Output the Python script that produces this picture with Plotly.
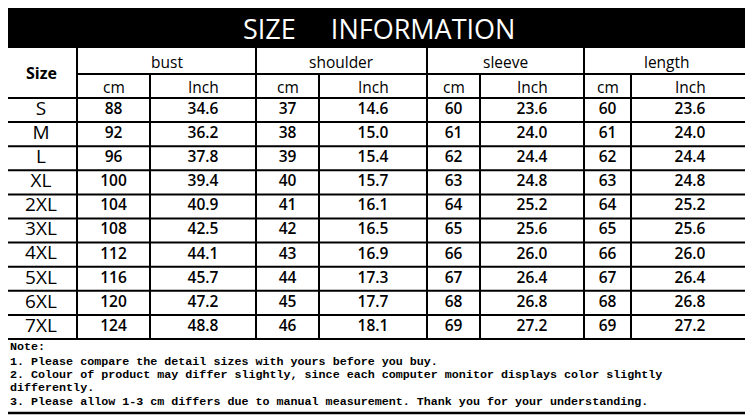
import plotly.graph_objects as go

# ---- data ----
sizes = ["S", "M", "L", "XL", "2XL", "3XL", "4XL", "5XL", "6XL", "7XL"]
bust_cm = [88, 92, 96, 100, 104, 108, 112, 116, 120, 124]
bust_in = ["34.6", "36.2", "37.8", "39.4", "40.9", "42.5", "44.1", "45.7", "47.2", "48.8"]
shoulder_cm = [37, 38, 39, 40, 41, 42, 43, 44, 45, 46]
shoulder_in = ["14.6", "15.0", "15.4", "15.7", "16.1", "16.5", "16.9", "17.3", "17.7", "18.1"]
sleeve_cm = [60, 61, 62, 63, 64, 65, 66, 67, 68, 69]
sleeve_in = ["23.6", "24.0", "24.4", "24.8", "25.2", "25.6", "26.0", "26.4", "26.8", "27.2"]
length_cm = [60, 61, 62, 63, 64, 65, 66, 67, 68, 69]
length_in = ["23.6", "24.0", "24.4", "24.8", "25.2", "25.6", "26.0", "26.4", "26.8", "27.2"]
groups = ["bust", "shoulder", "sleeve", "length"]
units = ["cm", "Inch"]
title = "SIZE\u00a0\u00a0\u00a0\u00a0\u00a0INFORMATION"
size_header = "Size"
notes = [
    "Note:",
    "1. Please compare the detail sizes with yours before you buy.",
    "2. Colour of product may differ slightly, since each computer monitor displays color slightly",
    "differently.",
    "3. Please allow 1-3 cm differs due to manual measurement. Thank you for your understanding.",
]

# ---- layout geometry (pixel-like axis units; page has an 8px body margin) ----
W, H = 753, 418
OFF = 8
col_edges = [5, 77, 150, 256, 319, 427, 480, 584, 631, 749]
top, title_bot, grp_bot, sub_bot = 7, 48, 74, 98
row_h = 24.1
n = len(sizes)
table_bot = sub_bot + n * row_h
bottom = 413
note_y = [347, 362, 375, 388, 402]

fig = go.Figure()
shapes = []
LW = 2
shapes.append(dict(type="rect", x0=col_edges[0], x1=col_edges[-1], y0=top, y1=title_bot,
                   fillcolor="black", line=dict(color="black", width=0), layer="below"))
shapes.append(dict(type="rect", x0=col_edges[0], x1=col_edges[-1], y0=top, y1=bottom,
                   line=dict(color="black", width=2.5)))
shapes.append(dict(type="line", x0=col_edges[1], x1=col_edges[-1], y0=grp_bot, y1=grp_bot,
                   line=dict(color="black", width=LW)))
for i in range(n + 1):
    y = sub_bot + i * row_h
    shapes.append(dict(type="line", x0=col_edges[0], x1=col_edges[-1], y0=y, y1=y,
                       line=dict(color="black", width=LW)))
for j, x in enumerate(col_edges[1:-1], start=1):
    y0 = title_bot if j % 2 == 1 else grp_bot
    shapes.append(dict(type="line", x0=x, x1=x, y0=y0, y1=table_bot,
                       line=dict(color="black", width=LW)))

centers = [(col_edges[k] + col_edges[k + 1]) / 2 for k in range(len(col_edges) - 1)]
row_c = [sub_bot + (i + 0.5) * row_h for i in range(n)]

cols = [bust_cm, bust_in, shoulder_cm, shoulder_in, sleeve_cm, sleeve_in, length_cm, length_in]

fig.add_trace(go.Scatter(x=[centers[0]] * n, y=row_c, text=sizes, mode="text",
                         textfont=dict(family="Open Sans", size=19, color="black", weight=500),
                         hoverinfo="skip", showlegend=False))
for k, col in enumerate(cols):
    fig.add_trace(go.Scatter(x=[centers[k + 1]] * n, y=row_c, text=[str(v) for v in col],
                             mode="text",
                             textfont=dict(family="Open Sans", size=15.5, color="black", weight=600),
                             hoverinfo="skip", showlegend=False))

ann = []
ann.append(dict(x=(col_edges[0] + col_edges[-1]) / 2 + 2, y=(top + title_bot) / 2 + 1, text=title,
                showarrow=False, font=dict(family="Open Sans", size=27, color="white", weight=500)))
ann.append(dict(x=centers[0], y=(title_bot + sub_bot) / 2, text=size_header, showarrow=False,
                font=dict(family="Open Sans", size=16, color="black", weight=700)))
for g, name in enumerate(groups):
    xc = (col_edges[1 + 2 * g] + col_edges[3 + 2 * g]) / 2
    ann.append(dict(x=xc, y=(title_bot + grp_bot) / 2 + 1, text=name, showarrow=False,
                    font=dict(family="Open Sans", size=15.5, color="black", weight=500)))
    for u, unit in enumerate(units):
        ann.append(dict(x=centers[1 + 2 * g + u], y=(grp_bot + sub_bot) / 2 + 1, text=unit,
                        showarrow=False, font=dict(family="Open Sans", size=15.5, color="black", weight=500)))
for line, y in zip(notes, note_y):
    ann.append(dict(x=8, y=y, text=line.replace(" ", "\u00a0"), xanchor="left", showarrow=False,
                    font=dict(family="Liberation Mono", size=11.7, color="black", weight=700)))

fig.update_layout(
    width=W - OFF, height=H - OFF, margin=dict(l=0, r=0, t=0, b=0, pad=0),
    paper_bgcolor="white", plot_bgcolor="white",
    xaxis=dict(range=[0, W - OFF], visible=False, fixedrange=True),
    yaxis=dict(range=[H - OFF, 0], visible=False, fixedrange=True),
    shapes=shapes, annotations=ann, showlegend=False,
)
# shift all content by the page offset so it lands at the reference pixel positions
for s in fig.layout.shapes:
    s.x0 -= OFF; s.x1 -= OFF; s.y0 -= OFF; s.y1 -= OFF
for a in fig.layout.annotations:
    a.x -= OFF; a.y -= OFF
for t in fig.data:
    t.x = [v - OFF for v in t.x]
    t.y = [v - OFF for v in t.y]
fig.write_html("out.html")
